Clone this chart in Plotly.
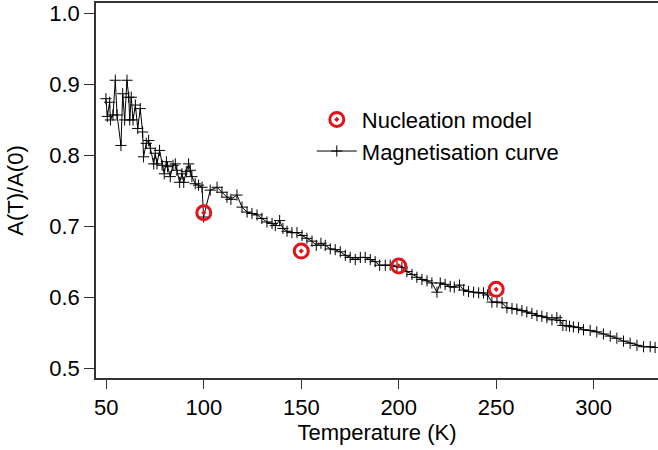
import plotly.graph_objects as go

# Magnetisation curve
temp_curve = [
    49.8, 50.5, 51.7, 52.1, 53.4, 54.6, 55.5, 57.5, 58.4, 59.4, 60.6, 61.5, 62.0, 62.8, 63.7,
    64.9, 66.1, 67.4, 68.6, 69.1, 70.5, 71.7, 72.6, 74.3, 75.1, 76.0, 77.3, 78.6, 79.7, 80.8,
    81.4, 82.8, 84.2, 85.4, 86.2, 87.6, 88.8, 89.7, 91.0, 92.2, 93.1, 93.9, 95.6, 97.3, 99.1,
    99.9, 103.3, 106.8, 109.3, 111.9, 113.9, 117.0, 119.6, 122.2, 124.7, 127.3, 129.8, 132.4,
    135.0, 136.7, 138.9, 140.6, 142.7, 145.2, 147.8, 150.4, 152.9, 155.5, 157.7, 160.1, 162.3,
    164.9, 167.4, 170.0, 172.6, 175.1, 177.7, 180.3, 182.8, 185.4, 187.9, 190.2, 193.1, 195.6,
    199.1, 201.6, 204.2, 206.8, 209.3, 211.9, 214.5, 217.0, 219.6, 221.3, 223.8, 226.4, 228.5,
    231.2, 233.3, 235.8, 238.4, 241.0, 243.5, 245.6, 247.8, 250.4, 253.0, 255.5, 258.1, 260.6,
    263.2, 265.7, 268.3, 270.9, 273.4, 276.0, 278.6, 281.1, 282.8, 284.2, 285.9, 287.6, 289.6,
    292.2, 294.8, 298.2, 301.6, 305.0, 308.5, 311.9, 315.3, 318.7, 322.2, 325.6, 329.0, 331.5,
]
ratio_curve = [
    0.880, 0.855, 0.875, 0.850, 0.857, 0.906, 0.857, 0.814, 0.887, 0.850, 0.906, 0.882, 0.850, 0.882, 0.850,
    0.871, 0.838, 0.866, 0.833, 0.798, 0.817, 0.821, 0.810, 0.788, 0.803, 0.788, 0.807, 0.786, 0.774, 0.791,
    0.784, 0.770, 0.786, 0.788, 0.779, 0.762, 0.774, 0.762, 0.777, 0.788, 0.779, 0.770, 0.760, 0.758, 0.755,
    0.713, 0.751, 0.755, 0.748, 0.741, 0.738, 0.744, 0.727, 0.720, 0.718, 0.716, 0.711, 0.706,
    0.704, 0.701, 0.708, 0.697, 0.693, 0.691, 0.691, 0.687, 0.683, 0.679, 0.673, 0.676, 0.673,
    0.668, 0.667, 0.664, 0.659, 0.656, 0.653, 0.656, 0.656, 0.653, 0.650, 0.645, 0.645, 0.645,
    0.643, 0.642, 0.636, 0.632, 0.628, 0.625, 0.623, 0.620, 0.607, 0.620, 0.618, 0.615, 0.614,
    0.617, 0.610, 0.608, 0.607, 0.606, 0.606, 0.603, 0.593, 0.593, 0.592, 0.585, 0.584, 0.583,
    0.581, 0.579, 0.577, 0.574, 0.573, 0.571, 0.568, 0.571, 0.567, 0.560, 0.560, 0.559, 0.558,
    0.557, 0.554, 0.553, 0.551, 0.548, 0.545, 0.542, 0.538, 0.535, 0.532, 0.530, 0.530, 0.529,
]

# Nucleation model
temp_model = [100, 150, 200, 250]
ratio_model = [0.719, 0.665, 0.644, 0.611]

x_ticks = [50, 100, 150, 200, 250, 300]
y_ticks = [0.5, 0.6, 0.7, 0.8, 0.9, 1.0]

FONT = "Liberation Sans, Arial, sans-serif"

fig = go.Figure()
fig.add_trace(go.Scatter(
    x=temp_curve, y=ratio_curve, mode="lines+markers", name="Magnetisation curve",
    line=dict(color="black", width=1),
    marker=dict(symbol="cross-thin", size=8, line=dict(color="black", width=1), color="black"),
))
fig.add_trace(go.Scatter(
    x=temp_model, y=ratio_model, mode="markers", name="Nucleation model",
    marker=dict(symbol="circle-open-dot", size=14, color="#e3131b", line=dict(color="#e3131b", width=3)),
))

fig.update_layout(
    width=658, height=450,
    margin=dict(l=96, r=0, t=3, b=72, autoexpand=False),
    paper_bgcolor="white", plot_bgcolor="white",
    font=dict(family=FONT, size=22, color="black"),
    showlegend=True,
    legend=dict(
        x=0.384, y=0.745, xanchor="left", yanchor="top",
        traceorder="reversed", bgcolor="rgba(0,0,0,0)",
        font=dict(size=22), itemwidth=40, tracegroupgap=0,
    ),
    xaxis=dict(
        range=[44.7, 333], tickvals=x_ticks, ticks="outside", ticklen=9, tickwidth=1.3,
        tickcolor="#333", showline=True, linecolor="#333", linewidth=1.5, mirror=True,
        showgrid=False, zeroline=False, automargin=False,
        title=dict(text="Temperature (K)", standoff=4, font=dict(size=22)),
    ),
    yaxis=dict(
        range=[0.4859, 1.015], tickvals=y_ticks, tickformat=".1f", ticks="outside", ticklen=10,
        tickwidth=1.3, tickcolor="#333", showline=True, linecolor="#333", linewidth=1.5,
        showgrid=False, zeroline=False, automargin=False,
        title=dict(text="A(T)/A(0)", standoff=20, font=dict(size=22)),
    ),
)

fig.write_html(
    "out.html",
    config={"displayModeBar": False},
    post_script="document.body.style.margin='0';document.body.style.overflow='hidden';",
)
